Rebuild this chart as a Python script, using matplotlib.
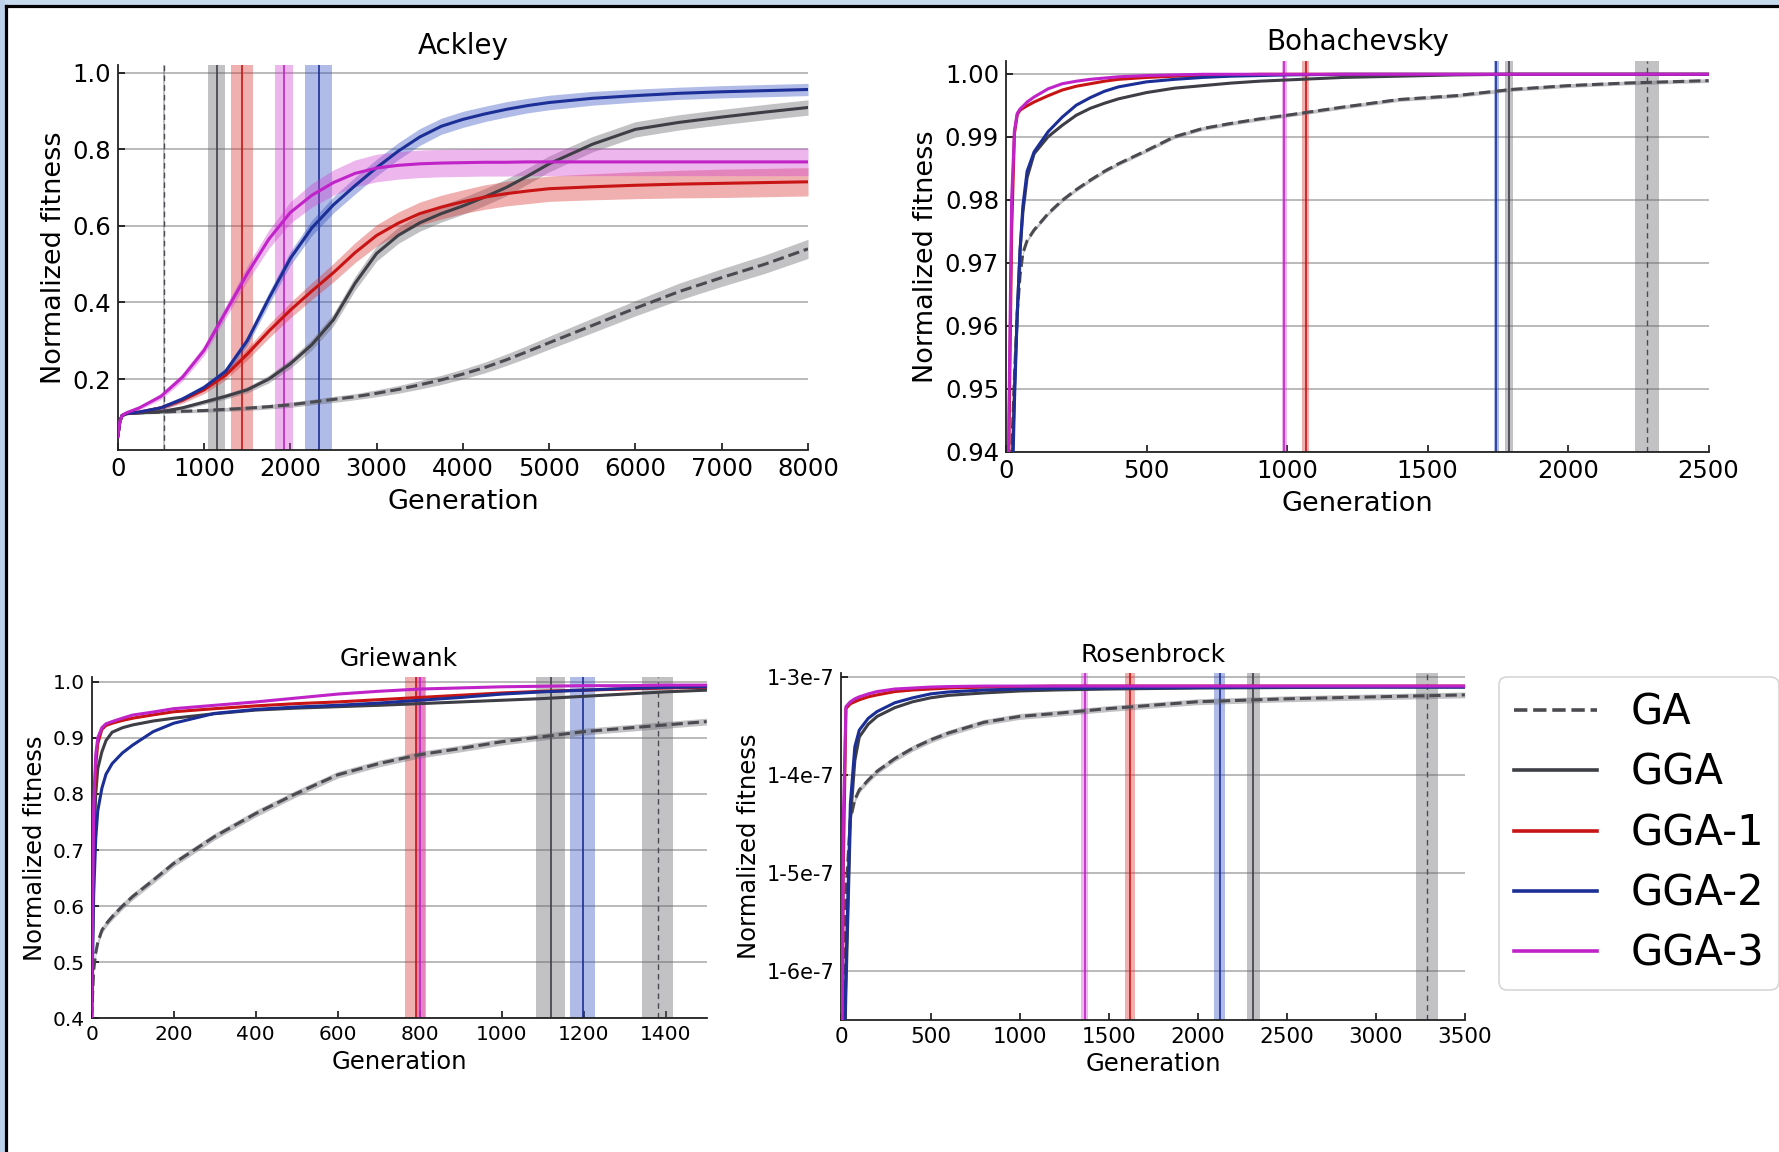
import numpy as np
import matplotlib
matplotlib.use("Agg")
import matplotlib.pyplot as plt
from matplotlib.patches import Rectangle
from matplotlib.lines import Line2D

W, H, DPI = 1779, 1152, 100

series_names = ["GA", "GGA", "GGA-1", "GGA-2", "GGA-3"]
line_colors = {"GA": "#4a4a50", "GGA": "#3e3e46", "GGA-1": "#c81414",
               "GGA-2": "#1b2f96", "GGA-3": "#c023c8"}
band_colors = {"GA": "#606068", "GGA": "#606068", "GGA-1": "#d83030",
               "GGA-2": "#3050c0", "GGA-3": "#d040d0"}
line_styles = {"GA": "--", "GGA": "-", "GGA-1": "-", "GGA-2": "-", "GGA-3": "-"}

# ---------------- Ackley ----------------
ackley_gen = [0, 25, 50, 100, 250, 500, 750, 1000, 1250, 1500, 1750, 2000, 2250, 2500, 2750,
              3000, 3250, 3500, 3750, 4000, 4250, 4500, 4750, 5000, 5500, 6000, 6500, 7000, 7500, 8000]
ackley_ga = [0.05, 0.09, 0.105, 0.11, 0.112, 0.114, 0.116, 0.118, 0.121, 0.124, 0.128, 0.133, 0.140, 0.147, 0.154,
             0.163, 0.173, 0.185, 0.198, 0.213, 0.230, 0.250, 0.272, 0.295, 0.340, 0.385, 0.428, 0.465, 0.500, 0.540]
ackley_gga = [0.05, 0.09, 0.105, 0.11, 0.112, 0.115, 0.125, 0.140, 0.155, 0.172, 0.200, 0.240, 0.290, 0.355, 0.450,
              0.528, 0.575, 0.608, 0.632, 0.652, 0.675, 0.700, 0.730, 0.762, 0.813, 0.852, 0.870, 0.884, 0.897, 0.909]
ackley_gga1 = [0.05, 0.09, 0.105, 0.11, 0.114, 0.125, 0.145, 0.172, 0.210, 0.265, 0.325, 0.380, 0.430, 0.478, 0.530,
               0.575, 0.607, 0.632, 0.649, 0.663, 0.675, 0.684, 0.691, 0.697, 0.702, 0.706, 0.709, 0.711, 0.713, 0.715]
ackley_gga2 = [0.05, 0.09, 0.105, 0.11, 0.114, 0.125, 0.148, 0.178, 0.220, 0.300, 0.410, 0.515, 0.595, 0.655, 0.705,
               0.752, 0.795, 0.832, 0.860, 0.878, 0.892, 0.904, 0.914, 0.922, 0.933, 0.940, 0.946, 0.950, 0.953, 0.956]
ackley_gga3 = [0.05, 0.09, 0.105, 0.112, 0.125, 0.155, 0.205, 0.275, 0.375, 0.475, 0.565, 0.635, 0.680, 0.713, 0.737,
               0.751, 0.758, 0.762, 0.764, 0.765, 0.766, 0.766, 0.767, 0.767, 0.767, 0.767, 0.767, 0.767, 0.767, 0.767]
ackley_ga_sd = [0.002, 0.003, 0.003, 0.003, 0.003, 0.004, 0.004, 0.005, 0.005, 0.006, 0.006, 0.007, 0.007, 0.008, 0.008,
                0.009, 0.010, 0.011, 0.012, 0.013, 0.014, 0.015, 0.016, 0.017, 0.019, 0.020, 0.022, 0.023, 0.024, 0.025]
ackley_gga_sd = [0.002, 0.003, 0.003, 0.003, 0.003, 0.004, 0.005, 0.006, 0.007, 0.008, 0.010, 0.012, 0.014, 0.016, 0.018,
                 0.020, 0.021, 0.022, 0.022, 0.022, 0.022, 0.022, 0.021, 0.021, 0.020, 0.020, 0.020, 0.020, 0.020, 0.020]
ackley_gga1_sd = [0.002, 0.003, 0.003, 0.003, 0.004, 0.006, 0.008, 0.010, 0.012, 0.015, 0.018, 0.020, 0.022, 0.024, 0.026,
                  0.028, 0.029, 0.030, 0.031, 0.031, 0.032, 0.032, 0.033, 0.033, 0.034, 0.035, 0.036, 0.037, 0.037, 0.037]
ackley_gga2_sd = [0.002, 0.003, 0.003, 0.003, 0.004, 0.006, 0.007, 0.008, 0.010, 0.013, 0.016, 0.018, 0.020, 0.021, 0.022,
                  0.022, 0.022, 0.022, 0.021, 0.021, 0.020, 0.020, 0.019, 0.019, 0.018, 0.017, 0.016, 0.016, 0.016, 0.016]
ackley_gga3_sd = [0.002, 0.003, 0.003, 0.004, 0.005, 0.008, 0.010, 0.013, 0.016, 0.020, 0.024, 0.028, 0.031, 0.033, 0.035,
                  0.036, 0.036, 0.036, 0.036, 0.036, 0.036, 0.036, 0.036, 0.036, 0.036, 0.036, 0.036, 0.036, 0.036, 0.036]
ackley_vline_center = [540, 1145, 1444, 2328, 1925]
ackley_vline_halfwidth = [12, 95, 127, 153, 105]

# ---------------- Bohachevsky ----------------
boha_gen = [0, 10, 20, 30, 40, 50, 60, 75, 100, 150, 200, 250, 300, 350, 400, 500, 600, 700, 800, 900,
            1000, 1200, 1400, 1600, 1800, 2000, 2200, 2500]
boha_ga = [0.90, 0.925, 0.94, 0.952, 0.962, 0.968, 0.9715, 0.9735, 0.9752, 0.9778, 0.9799, 0.9816, 0.9831, 0.9845,
           0.9857, 0.9878, 0.9900, 0.9913, 0.9921, 0.9928, 0.9934, 0.9947, 0.9959, 0.9965, 0.9975, 0.9981, 0.9985, 0.9989]
boha_gga = [0.90, 0.92, 0.935, 0.950, 0.962, 0.972, 0.978, 0.9835, 0.9873, 0.9900, 0.9918, 0.9934, 0.9945, 0.9953,
            0.9960, 0.9970, 0.9977, 0.9981, 0.9985, 0.9988, 0.9990, 0.9994, 0.9996, 0.9998, 0.9999, 0.9999, 0.9999, 0.9999]
boha_gga1 = [0.90, 0.94, 0.975, 0.9905, 0.9935, 0.9942, 0.9945, 0.9949, 0.9955, 0.9965, 0.9974, 0.9980, 0.9984, 0.9988,
             0.9991, 0.9994, 0.9996, 0.9997, 0.9998, 0.9999, 0.9999, 0.9999, 0.9999, 0.9999, 0.9999, 0.9999, 0.9999, 0.9999]
boha_gga2 = [0.90, 0.915, 0.93, 0.948, 0.962, 0.972, 0.979, 0.9845, 0.9876, 0.9908, 0.9931, 0.9950, 0.9962, 0.9972,
             0.9979, 0.9987, 0.9991, 0.9994, 0.9996, 0.9997, 0.9998, 0.9999, 0.9999, 0.9999, 0.9999, 0.9999, 0.9999, 0.9999]
boha_gga3 = [0.90, 0.945, 0.98, 0.991, 0.9937, 0.9944, 0.9948, 0.9955, 0.9963, 0.9976, 0.9984, 0.9988, 0.9991, 0.9993,
             0.9995, 0.9997, 0.9998, 0.9999, 0.9999, 0.9999, 0.9999, 0.9999, 0.9999, 0.9999, 0.9999, 0.9999, 0.9999, 0.9999]
boha_sd = [0.0003, 0.00004, 0.00004, 0.00004, 0.00004]
boha_vline_center = [2280, 1790, 1067, 1745, 990]
boha_vline_halfwidth = [42, 15, 12, 9, 9]

# ---------------- Griewank ----------------
grie_gen = [0, 5, 10, 15, 25, 35, 50, 75, 100, 150, 200, 300, 400, 500, 600, 700, 800, 900,
            1000, 1100, 1200, 1300, 1400, 1500]
grie_ga = [0.40, 0.486, 0.516, 0.535, 0.557, 0.568, 0.581, 0.600, 0.617, 0.646, 0.676, 0.724, 0.765, 0.801,
           0.834, 0.854, 0.870, 0.881, 0.893, 0.902, 0.911, 0.917, 0.923, 0.929]
grie_gga = [0.40, 0.70, 0.80, 0.845, 0.875, 0.895, 0.910, 0.918, 0.923, 0.930, 0.935, 0.943, 0.9495, 0.953,
            0.9555, 0.958, 0.961, 0.964, 0.967, 0.970, 0.974, 0.978, 0.982, 0.985]
grie_gga1 = [0.40, 0.75, 0.85, 0.89, 0.915, 0.922, 0.926, 0.931, 0.935, 0.941, 0.9465, 0.952, 0.957, 0.961,
             0.964, 0.968, 0.972, 0.976, 0.980, 0.983, 0.985, 0.987, 0.989, 0.990]
grie_gga2 = [0.40, 0.62, 0.72, 0.77, 0.81, 0.835, 0.854, 0.873, 0.887, 0.911, 0.926, 0.9436, 0.9507, 0.955,
             0.958, 0.962, 0.967, 0.972, 0.978, 0.982, 0.985, 0.988, 0.990, 0.991]
grie_gga3 = [0.40, 0.78, 0.87, 0.90, 0.918, 0.925, 0.929, 0.935, 0.9406, 0.946, 0.952, 0.958, 0.964, 0.971,
             0.978, 0.983, 0.987, 0.989, 0.991, 0.992, 0.993, 0.993, 0.994, 0.994]
grie_sd = [0.006, 0.001, 0.001, 0.001, 0.001]
grie_vline_center = [1381, 1120, 790, 1198, 802]
grie_vline_halfwidth = [38, 35, 25, 30, 11]

# ---------------- Rosenbrock (fitness = 1 - deficit * 1e-7) ----------------
rosen_gen = [0, 10, 25, 50, 75, 100, 150, 200, 300, 400, 500, 600, 800, 1000, 1200, 1500, 2000, 2500, 3000, 3500]
rosen_ga_deficit = [8.0, 7.0, 5.2, 4.45, 4.25, 4.15, 4.05, 3.96, 3.83, 3.725, 3.64, 3.57, 3.46, 3.40, 3.37,
                    3.32, 3.25, 3.22, 3.20, 3.18]
rosen_gga_deficit = [8.0, 7.5, 6.2, 4.46, 3.85, 3.61, 3.48, 3.40, 3.31, 3.25, 3.21, 3.185, 3.16, 3.14, 3.13,
                     3.12, 3.11, 3.105, 3.10, 3.10]
rosen_gga1_deficit = [8.0, 5.0, 3.32, 3.27, 3.25, 3.23, 3.20, 3.18, 3.146, 3.13, 3.12, 3.11, 3.10, 3.095, 3.09,
                      3.09, 3.09, 3.09, 3.09, 3.09]
rosen_gga2_deficit = [8.0, 7.5, 6.0, 4.29, 3.71, 3.54, 3.42, 3.35, 3.26, 3.21, 3.17, 3.15, 3.13, 3.12, 3.115,
                      3.11, 3.105, 3.10, 3.10, 3.10]
rosen_gga3_deficit = [8.0, 4.5, 3.30, 3.25, 3.22, 3.20, 3.17, 3.146, 3.12, 3.11, 3.10, 3.095, 3.09, 3.09, 3.09,
                      3.09, 3.09, 3.09, 3.09, 3.09]
rosen_sd = [0.03, 0.005, 0.005, 0.005, 0.01]
rosen_vline_center = [3288, 2313, 1619, 2124, 1365]
rosen_vline_halfwidth = [63, 36, 27, 32, 20]
rosen_yticks = [3, 4, 5, 6]
rosen_yticklabels = ["1-3e-7", "1-4e-7", "1-5e-7", "1-6e-7"]

fig = plt.figure(figsize=(W / DPI, H / DPI), dpi=DPI)
fig.patch.set_facecolor("white")


def panel(rect, title, gen, curves, sds, vc, vw, xlim, ylim, xticks, yticks, yticklabels,
          tick_fs, ytick_fs, title_fs, label_fs, xlabelpad):
    ax = fig.add_axes(rect)
    gen = np.asarray(gen, dtype=float)
    # vertical convergence markers
    for name, c, w in zip(series_names, vc, vw):
        ax.axvspan(c - w, c + w, color=band_colors[name], alpha=0.38, lw=0, zorder=1)
        if name == "GA":
            ax.axvline(c, color=line_colors[name], lw=1.0, ls="--", dashes=(4, 3), zorder=2)
        else:
            ax.axvline(c, color=line_colors[name], lw=1.2, zorder=2)
    for name, y, sd in zip(series_names, curves, sds):
        y = np.asarray(y, dtype=float)
        sd = np.broadcast_to(np.asarray(sd, dtype=float), y.shape)
        ax.fill_between(gen, y - sd, y + sd, color=band_colors[name], alpha=0.38, lw=0, zorder=3)
    for name, y in zip(series_names, curves):
        ax.plot(gen, y, color=line_colors[name], lw=2.2, ls=line_styles[name], zorder=4)
    ax.set_xlim(*xlim)
    ax.set_ylim(*ylim)
    ax.set_xticks(xticks)
    ax.set_yticks(yticks)
    ax.set_yticklabels(yticklabels)
    ax.yaxis.grid(True, color="#b4b4b4", lw=1.3, zorder=0)
    ax.set_axisbelow(True)
    for s in ["top", "right"]:
        ax.spines[s].set_visible(False)
    for s in ["left", "bottom"]:
        ax.spines[s].set_linewidth(1.3)
        ax.spines[s].set_color("#222222")
    ax.tick_params(direction="in", length=5, width=1.1, pad=5)
    ax.tick_params(axis="x", labelsize=tick_fs)
    ax.tick_params(axis="y", labelsize=ytick_fs)
    ax.set_title(title, fontsize=title_fs, pad=8)
    ax.set_xlabel("Generation", fontsize=label_fs, labelpad=xlabelpad)
    ax.set_ylabel("Normalized fitness", fontsize=label_fs, labelpad=4)
    return ax


panel([0.0662, 0.6094, 0.3880, 0.3342], "Ackley", ackley_gen,
      [ackley_ga, ackley_gga, ackley_gga1, ackley_gga2, ackley_gga3],
      [ackley_ga_sd, ackley_gga_sd, ackley_gga1_sd, ackley_gga2_sd, ackley_gga3_sd],
      ackley_vline_center, ackley_vline_halfwidth, (0, 8000), (0.015, 1.02),
      range(0, 8001, 1000), [0.2, 0.4, 0.6, 0.8, 1.0], ["0.2", "0.4", "0.6", "0.8", "1.0"],
      17.5, 17.5, 20, 19.5, 6)

panel([0.5655, 0.6079, 0.3949, 0.3391], "Bohachevsky", boha_gen,
      [boha_ga, boha_gga, boha_gga1, boha_gga2, boha_gga3], boha_sd,
      boha_vline_center, boha_vline_halfwidth, (0, 2500), (0.94, 1.002),
      range(0, 2501, 500), [0.94, 0.95, 0.96, 0.97, 0.98, 0.99, 1.00],
      ["0.94", "0.95", "0.96", "0.97", "0.98", "0.99", "1.00"],
      17.5, 17.5, 20, 19.5, 6)

panel([0.0515, 0.1161, 0.3457, 0.2960], "Griewank", grie_gen,
      [grie_ga, grie_gga, grie_gga1, grie_gga2, grie_gga3], grie_sd,
      grie_vline_center, grie_vline_halfwidth, (0, 1500), (0.4, 1.008),
      range(0, 1401, 200), [0.4, 0.5, 0.6, 0.7, 0.8, 0.9, 1.0],
      ["0.4", "0.5", "0.6", "0.7", "0.8", "0.9", "1.0"],
      14.5, 14.5, 18, 17.5, 4)

panel([0.4730, 0.1146, 0.3504, 0.3009], "Rosenbrock", rosen_gen,
      [[-v for v in rosen_ga_deficit], [-v for v in rosen_gga_deficit], [-v for v in rosen_gga1_deficit],
       [-v for v in rosen_gga2_deficit], [-v for v in rosen_gga3_deficit]], rosen_sd,
      rosen_vline_center, rosen_vline_halfwidth, (0, 3500), (-6.5, -2.96),
      range(0, 3501, 500), [-v for v in rosen_yticks], rosen_yticklabels,
      15.5, 15, 18, 17.5, 4)

handles = [Line2D([0], [0], color=line_colors[n], lw=2.6, ls=line_styles[n]) for n in series_names]
leg = fig.legend(handles, series_names, loc="upper left",
                 bbox_to_anchor=(1499 / W, 1 - 677 / H), bbox_transform=fig.transFigure,
                 fontsize=30, frameon=True, borderaxespad=0, handlelength=2.0,
                 handletextpad=0.8, labelspacing=0.44, borderpad=0.35)
leg.get_frame().set_edgecolor("#cccccc")
leg.get_frame().set_linewidth(1.2)

# screenshot frame: light blue strips and black border line
fig.add_artist(Rectangle((0, 1 - 5 / H), 1, 5 / H, transform=fig.transFigure,
                         facecolor="#c6daee", edgecolor="none", zorder=10))
fig.add_artist(Rectangle((0, 0), 4.5 / W, 1, transform=fig.transFigure,
                         facecolor="#bcd2ea", edgecolor="none", zorder=10))
fig.add_artist(Line2D([5.8 / W, 5.8 / W], [0, 1 - 5.8 / H], transform=fig.transFigure,
                      color="black", lw=2.3, zorder=11))
fig.add_artist(Line2D([5.8 / W, 1], [1 - 5.8 / H, 1 - 5.8 / H], transform=fig.transFigure,
                      color="black", lw=2.3, zorder=11))

fig.savefig("out.png", dpi=DPI)
